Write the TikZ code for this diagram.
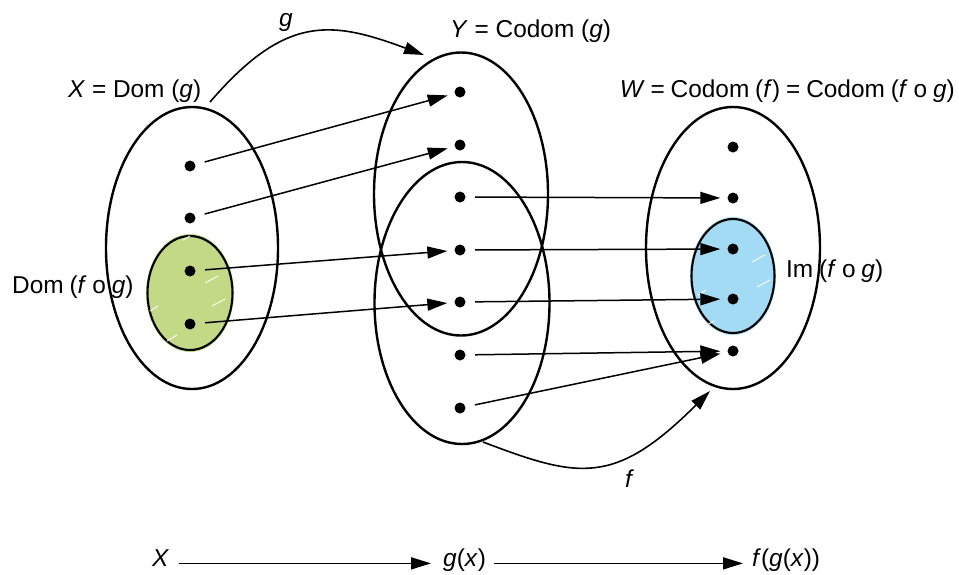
\documentclass[tikz,border=0pt]{standalone}
\usepackage{fontspec}
\setmainfont{Liberation Sans}
\usetikzlibrary{arrows.meta,shapes.geometric}

\definecolor{domgreen}{HTML}{C3D985}
\definecolor{imblue}{HTML}{A3DAF4}

\tikzset{
  setbox/.style={ellipse, draw, line width=2.4pt, inner sep=0pt},
  subset/.style={ellipse, draw, line width=2.1pt, inner sep=0pt},
  elem/.style={circle, fill, inner sep=0pt, minimum size=11pt},
  maparrow/.style={line width=1.5pt, -{Triangle[length=20pt,width=12pt]},
                   shorten <=9.5pt, shorten >=7pt},
  bigarrow/.style={line width=1.6pt, -{Triangle[length=20pt,width=12pt]}},
  lbl/.style={anchor=base west, inner sep=0pt,
              font=\fontsize{24.4}{29}\selectfont},
  sketch/.style={white, line width=1.1pt, opacity=0.85, line cap=round}
}

\begin{document}
\begin{tikzpicture}[x=1pt, y=-1pt]
\useasboundingbox (0,0) rectangle (959,574);

% sets
\node[setbox, minimum width=172pt, minimum height=282pt] (X) at (192,248) {};
\node[setbox, minimum width=174pt, minimum height=283pt] (Yup) at (461,194) {};
\node[setbox, minimum width=175pt, minimum height=282pt] (Ylo) at (462,303) {};
\node[setbox, minimum width=174pt, minimum height=282pt] (W) at (733,248) {};

% shaded subsets: domain of f o g and image of f o g
\fill[domgreen] (190,293) ellipse [x radius=44, y radius=59];
\fill[imblue] (733,276) ellipse [x radius=43, y radius=59];
\node[subset, minimum width=85pt, minimum height=114pt] (D) at (190,293) {};
\node[subset, minimum width=83pt, minimum height=114pt] (I) at (733,276) {};

% hand-drawn highlights
\draw[sketch] (205,283) -- (218,276);
\draw[sketch] (212,306) -- (225,299);
\draw[sketch] (150,311) -- (158,306);
\draw[sketch] (167,341) -- (177,335);
\draw[sketch] (183,240) -- (190,236);
\draw[sketch] (752,262) -- (765,255);
\draw[sketch] (757,287) -- (770,280);
\draw[sketch] (698,295) -- (706,290);
\draw[sketch] (705,326) -- (714,321);

% elements
\foreach \i/\yy in {1/166, 2/218, 3/271, 4/324}
  \node[elem] (x\i) at (190,\yy) {};
\foreach \i/\yy in {1/92, 2/145, 3/197, 4/250, 5/302, 6/355, 7/408}
  \node[elem] (y\i) at (460,\yy) {};
\foreach \i/\yy in {1/147, 2/198, 3/249, 4/299, 5/351}
  \node[elem] (w\i) at (733,\yy) {};

% g : X -> Y
\draw[maparrow] (x1) -- (y1);
\draw[maparrow] (x2) -- (y2);
\draw[maparrow] (x3) -- (y4);
\draw[maparrow] (x4) -- (y5);

% f : Y -> W
\draw[maparrow] (y3) -- (w2);
\draw[maparrow] (y4) -- (w3);
\draw[maparrow] (y5) -- (w4);
\draw[maparrow] (y6) -- (w5);
\draw[maparrow] (y7) -- (w5);

% labels of the sets
\node[lbl] (labX) at (68,97) {\textit{X} = Dom (\textit{g})};
\node[lbl] (labY) at (450,37) {\textit{Y} = Codom (\textit{g})};
\node[lbl, anchor=base east] (labW) at (955,97)
  {\spaceskip=0.24em\textit{W} = Codom (\textit{f}) = Codom (\textit{f} o \textit{g})};
\node[lbl] (labD) at (12,293) {\spaceskip=0.24em Dom (\textit{f} o \textit{g})};
\node[lbl] (labI) at (786,277) {\spaceskip=0.24em Im (\textit{f} o \textit{g})};

% curved arrows naming the maps
\coordinate (gs) at (210,102);
\coordinate (ge) at (424,55);
\draw[bigarrow] (gs) .. controls (285,15) and (330,20) .. (ge);
\node[lbl] (labg) at (279,26) {\textit{g}};

\coordinate (fs) at (483,442);
\coordinate (fe) at (710,391);
\draw[bigarrow] (fs) .. controls (578,478) and (614,487) .. (fe);
\node[lbl] (labf) at (625,487) {\textit{f}};

% element chain
\node[lbl] (bX) at (152,566) {\textit{X}};
\node[lbl] (bG) at (443,566) {\textit{g}(\textit{x})};
\node[lbl] (bF) at (752,566) {\textit{f}(\textit{g}(\textit{x}))};
\draw[bigarrow, shorten <=10pt, shorten >=12pt] (bX.mid east) -- (bG.mid west);
\draw[bigarrow, shorten <=8pt, shorten >=9pt] (bG.mid east) -- (bF.mid west);
\end{tikzpicture}
\end{document}
